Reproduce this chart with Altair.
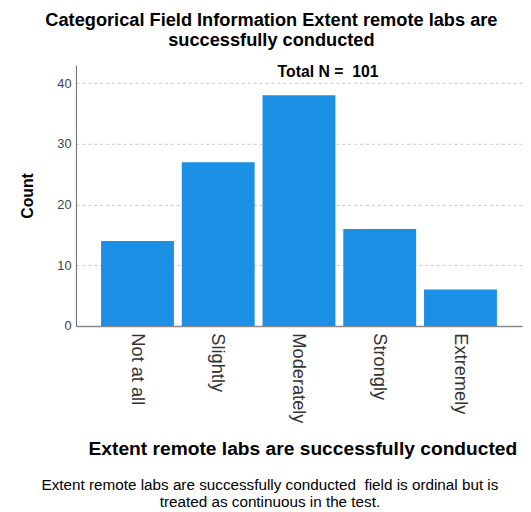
import altair as alt
import pandas as pd

categories = ["Not at all", "Slightly", "Moderately", "Strongly", "Extremely"]
counts = [14, 27, 38, 16, 6]
y_ticks = [0, 10, 20, 30, 40]
title_lines = ["Categorical Field Information Extent remote labs are", "successfully conducted"]
x_title = "Extent remote labs are successfully conducted"
footnote_lines = ["Extent remote labs are successfully conducted\u00a0 field is ordinal but is",
                  "treated as continuous in the test."]

FONT = "Liberation Sans"
df = pd.DataFrame({"category": categories, "count": counts})

base = alt.Chart(df)

bars = base.mark_bar(color="#1a8fe3").encode(
    x=alt.X("category:N", sort=categories,
            scale=alt.Scale(paddingInner=0.0976, paddingOuter=0.311),
            axis=alt.Axis(title=x_title, labelAngle=90, labelFontSize=18.5, labelFont=FONT,
                          labelColor="#333333", labelPadding=7, ticks=False,
                          domainColor="#8a8a8a", domainWidth=1.5,
                          titleFont=FONT, titleFontSize=19.5, titleFontWeight="bold",
                          titleColor="#000000", titleX=230, titleY=131,
                          titleAlign="center", titleBaseline="alphabetic")),
    y=alt.Y("count:Q", scale=alt.Scale(domain=[0, 43], nice=False),
            axis=alt.Axis(values=y_ticks, title="Count", grid=True, gridDash=[3, 3],
                          gridColor="#c8c8c8", ticks=False, labelPadding=5,
                          labelFontSize=13, labelFont=FONT, labelColor="#444444",
                          domainColor="#666666",
                          titleFont=FONT, titleFontSize=16, titleFontWeight="bold",
                          titleColor="#000000", titleX=-44,
                          titleAlign="center", titleBaseline="alphabetic")),
)

total = base.transform_aggregate(
    total="sum(count)"
).transform_calculate(
    label='"Total N = \u00a0" + datum.total'
).mark_text(font=FONT, fontWeight="bold", fontSize=16, align="center",
            baseline="alphabetic", color="#000000").encode(
    x=alt.value(256), y=alt.value(12), text="label:N"
)

foot = alt.Chart(pd.DataFrame({"a": [0]})).mark_text(
    text=footnote_lines, font=FONT, fontSize=15.5, lineHeight=17,
    align="center", baseline="alphabetic", color="#000000"
).encode(x=alt.value(197), y=alt.value(432))

chart = alt.layer(bars, total, foot).properties(
    width=453, height=265,
    autosize=alt.AutoSizeParams(type="none"),
    padding={"left": 69, "top": 54, "right": 1, "bottom": 185},
    title=alt.TitleParams(text=title_lines, font=FONT, fontSize=18.5, fontWeight="bold",
                          color="#000000", anchor="middle", frame="group", dx=-28,
                          offset=15, lineHeight=20.5),
).configure_view(stroke=None).configure_axisX(grid=False)

chart.save("out.html", embed_options={"renderer": "svg", "actions": False})
